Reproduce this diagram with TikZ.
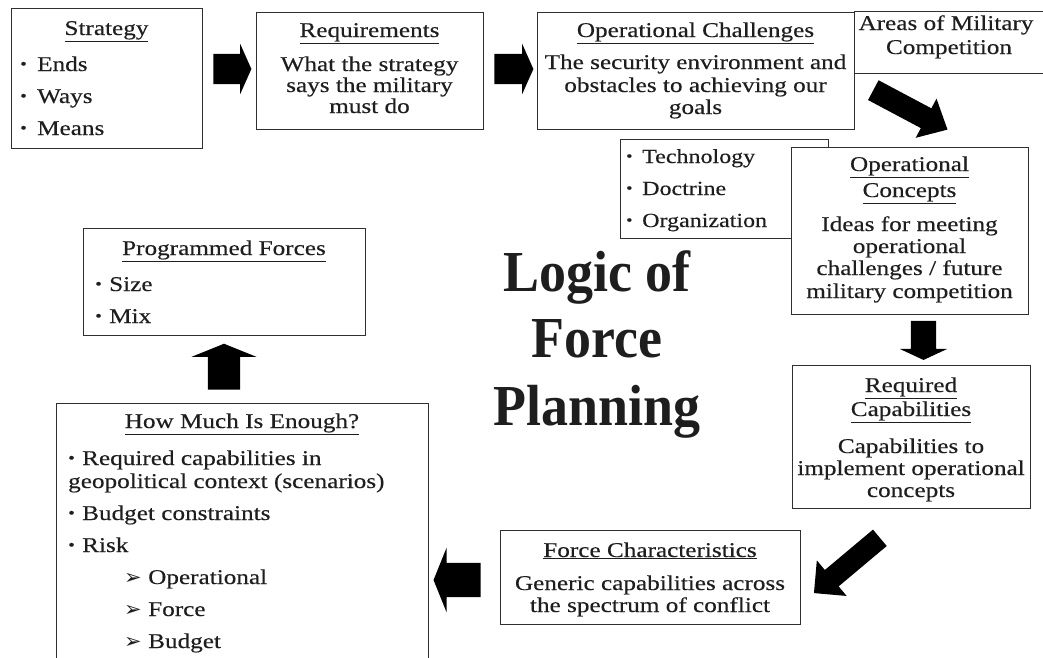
\documentclass[tikz,border=0pt]{standalone}
\usepackage{fontspec}
\setmainfont{Liberation Serif}[FakeStretch=1.2,FakeBold=0.3]
\newfontfamily\titlefont{Liberation Serif}[FakeStretch=0.93]
\newfontfamily\dejavu{DejaVu Sans}
\usetikzlibrary{shapes.arrows}
\definecolor{ink}{HTML}{1E1E1E}
\definecolor{edge}{HTML}{303030}
\newcommand\bul{\raisebox{2pt}{\scalebox{0.75}{•}}}
\newcommand\bitem[1]{\makebox[#1][l]{\bul}}
\newcommand\aitem{\makebox[24pt][l]{{\dejavu\fontsize{21}{21}\selectfont ➢}}}
\newcommand\fsbody{\fontsize{21}{21}\selectfont}
\begin{document}
\begin{tikzpicture}[x=1pt,y=-1pt,
  box/.style={draw=edge, line width=1.1pt, fill=white, inner sep=0pt, anchor=north west},
  t/.style={inner sep=0pt, anchor=base, text=ink, font=\fsbody},
  tl/.style={t, anchor=base west},
  ttl/.style={inner sep=0pt, anchor=base, text=ink, font=\titlefont\bfseries\fontsize{58}{58}\selectfont},
  blk/.style={single arrow, fill=black, draw=none, inner xsep=0pt, single arrow head indent=0pt}
]
\clip (0,0) rectangle (1043,657);
\fill[white] (0,0) rectangle (1043,657);

% boxes
\node[box, minimum width=191pt, minimum height=140pt] (strategy) at (11,8) {};
\node[box, minimum width=227pt, minimum height=117pt] (req) at (256,12) {};
\node[box, minimum width=317pt, minimum height=117pt] (opch) at (537,12) {};
\node[box, minimum width=220pt, minimum height=62pt] (areas) at (854,11) {};
\node[box, minimum width=208pt, minimum height=99pt] (tech) at (620,139) {};
\node[box, minimum width=237pt, minimum height=167pt] (opcon) at (791,147) {};
\node[box, minimum width=238pt, minimum height=143pt] (reqcap) at (792,365) {};
\node[box, minimum width=300pt, minimum height=94pt] (force) at (500,530) {};
\node[box, minimum width=372pt, minimum height=280pt] (howmuch) at (56,403) {};
\node[box, minimum width=282pt, minimum height=107pt] (prog) at (83,228) {};

% Strategy
\node[t] (strategyH) at (106.5,35) {\underline{Strategy}};
\node[tl] (s1) at (20,71) {\bitem{17pt}Ends};
\node[tl] (s2) at (20,103) {\bitem{17pt}Ways};
\node[tl] (s3) at (20,135) {\bitem{17pt}Means};

% Requirements
\node[t] (reqH) at (369.5,37) {\underline{Requirements}};
\node[t] (req1) at (369.5,71) {What the strategy};
\node[t] (req2) at (369.5,92) {says the military};
\node[t] (req3) at (369.5,113) {must do};

% Operational challenges
\node[t] (opchH) at (695.5,37) {\underline{Operational Challenges}};
\node[t] (opch1) at (695.5,69) {The security environment and};
\node[t] (opch2) at (695.5,92) {obstacles to achieving our};
\node[t] (opch3) at (695.5,114) {goals};

% Areas
\node[t] (areas1) at (946,30) {Areas of Military};
\node[t] (areas2) at (949,54) {Competition};

% Technology list
\node[tl, font=\fontsize{20}{20}\selectfont] (tech1) at (626,163) {\bitem{16pt}Technology};
\node[tl, font=\fontsize{20}{20}\selectfont] (tech2) at (626,195) {\bitem{16pt}Doctrine};
\node[tl, font=\fontsize{20}{20}\selectfont] (tech3) at (626,227) {\bitem{16pt}Organization};

% Operational concepts
\node[t] (opconH1) at (909.5,171) {\underline{Operational}};
\node[t] (opconH2) at (909.5,197) {\underline{Concepts}};
\node[t] (opcon1) at (909.5,231) {Ideas for meeting};
\node[t] (opcon2) at (909.5,253) {operational};
\node[t] (opcon3) at (909.5,275) {challenges / future};
\node[t] (opcon4) at (909.5,298) {military competition};

% Required capabilities
\node[t] (reqcapH1) at (911,392) {\underline{Required}};
\node[t] (reqcapH2) at (911,416) {\underline{Capabilities}};
\node[t] (reqcap1) at (911,453) {Capabilities to};
\node[t] (reqcap2) at (911,475) {implement operational};
\node[t] (reqcap3) at (911,497) {concepts};

% Force characteristics
\node[t] (forceH) at (650,557) {\underline{Force Characteristics}};
\node[t] (force1) at (650,590) {Generic capabilities across};
\node[t] (force2) at (650,612) {the spectrum of conflict};

% How much is enough
\node[t] (howH) at (242,428) {\underline{How Much Is Enough?}};
\node[tl] (how1) at (68,465) {\bitem{14pt}Required capabilities in};
\node[tl] (how2) at (68,488) {geopolitical context (scenarios)};
\node[tl] (how3) at (68,520) {\bitem{14pt}Budget constraints};
\node[tl] (how4) at (68,552) {\bitem{14pt}Risk};
\node[tl] (how5) at (124,584) {\aitem Operational};
\node[tl] (how6) at (124,616) {\aitem Force};
\node[tl] (how7) at (124,648) {\aitem Budget};

% Programmed forces
\node[t] (progH) at (224,255) {\underline{Programmed Forces}};
\node[tl] (prog1) at (95,291) {\bitem{14pt}Size};
\node[tl] (prog2) at (95,323) {\bitem{14pt}Mix};

% Title
\node[ttl] (title1) at (597,291) {Logic of};
\node[ttl] (title2) at (597,357) {Force};
\node[ttl] (title3) at (597,425) {Planning};

% block arrows
\node[blk, minimum height=38pt, inner ysep=15pt, single arrow head extend=10pt, single arrow tip angle=132] (a1) at (229,69) {};
\node[blk, minimum height=39pt, inner ysep=15pt, single arrow head extend=10pt, single arrow tip angle=132] (a2) at (510.5,69) {};
\node[blk, rotate=-28, minimum height=84pt, inner ysep=11pt, single arrow head extend=11pt, single arrow tip angle=85] (a3) at (905,107) {};
\node[blk, rotate=-90, minimum height=39pt, inner ysep=12.5pt, single arrow head extend=11pt, single arrow tip angle=130] (a4) at (923.5,337.5) {};
\node[blk, rotate=220, minimum height=86pt, inner ysep=10.5pt, single arrow head extend=12.5pt, single arrow tip angle=90] (a5) at (851,562) {};
\node[blk, rotate=180, minimum height=47pt, inner ysep=17pt, single arrow head extend=15pt, single arrow tip angle=136] (a6) at (460.5,580) {};
\node[blk, rotate=90, minimum height=46pt, inner ysep=16pt, single arrow head extend=16.5pt, single arrow tip angle=136] (a7) at (224,370) {};
\end{tikzpicture}
\end{document}
